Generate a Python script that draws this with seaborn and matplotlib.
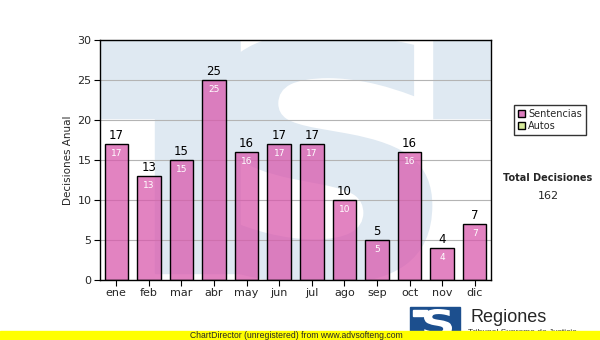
import matplotlib
matplotlib.use("Agg")
import matplotlib.pyplot as plt
import matplotlib.patches as mpatches
from matplotlib.textpath import TextPath
from matplotlib.font_manager import FontProperties
from matplotlib.transforms import Affine2D
import seaborn as sns
import pandas as pd

# data
meses = ["ene", "feb", "mar", "abr", "may", "jun", "jul", "ago", "sep", "oct", "nov", "dic"]
sentencias = [17, 13, 15, 25, 16, 17, 17, 10, 5, 16, 4, 7]
total = 162

df = pd.DataFrame({"mes": meses, "valor": sentencias})

sns.set_style("white")
plt.rcParams["font.family"] = ["DejaVu Sans"]

WM = "#dfe9f2"


def glyph_patch(ch, x0, y0, x1, y1, color, transform, zorder, family="DejaVu Sans"):
    # letter path stretched into a box
    tp = TextPath((0, 0), ch, size=100, prop=FontProperties(family=family, weight="bold"))
    ext = tp.get_extents()
    tr = Affine2D().translate(-ext.x0, -ext.y0).scale((x1 - x0) / ext.width, (y1 - y0) / ext.height).translate(x0, y0)
    return mpatches.PathPatch(tr.transform_path(tp), facecolor=color, edgecolor="none",
                              transform=transform, zorder=zorder)


fig = plt.figure(figsize=(6, 3.4), dpi=100)
ax = fig.add_axes([100 / 600, 1 - 280 / 340, 391 / 600, 240 / 340])

# "TS" watermark behind the bars
ax.set_facecolor("white")
ax.add_patch(mpatches.Rectangle((0, 0.675), 1, 0.325, transform=ax.transAxes, color=WM, zorder=0))
ax.add_patch(mpatches.Rectangle((0.14, 0.03), 0.22, 0.7, transform=ax.transAxes, color=WM, zorder=0))
ax.add_patch(mpatches.Rectangle((0.36, 0.0), 0.49, 1.0, transform=ax.transAxes, color="white", zorder=0.1))
ax.add_patch(glyph_patch("S", 0.29, -0.02, 0.85, 1.03, WM, ax.transAxes, 0.2))

sns.barplot(data=df, x="mes", y="valor", color="#d85aae", saturation=1,
            width=0.72, edgecolor="black", linewidth=1, ax=ax, zorder=3)
for p in ax.patches:
    if p.get_zorder() == 3:
        p.set_alpha(None)
        p.set_facecolor((0.85, 0.35, 0.68, 0.75))
        p.set_edgecolor((0, 0, 0, 1))

for i, v in enumerate(sentencias):
    ax.text(i, v + 0.2, str(v), ha="center", va="bottom", fontsize=8.5, color="black", zorder=4)
    ax.text(i, v - 0.6, str(v), ha="center", va="top", fontsize=6.5, color="white", zorder=4)

ax.set_ylim(0, 30)
ax.set_xlim(-0.5, 11.5)
ax.set_yticks(range(0, 31, 5))
ax.yaxis.grid(True, color="#b4b4b4", linewidth=0.8, zorder=1)
ax.set_axisbelow(True)
ax.tick_params(axis="both", labelsize=8, length=4, color="black", direction="out",
               left=True, bottom=True, pad=2)
ax.set_xlabel("")
ax.set_ylabel("Decisiones Anual", fontsize=7.5, labelpad=3)
for s in ["left", "bottom", "right", "top"]:
    ax.spines[s].set_color("black")
    ax.spines[s].set_linewidth(1)
    ax.spines[s].set_zorder(5)

# legend
handles = [mpatches.Patch(facecolor="#dc7dbe", edgecolor="black", label="Sentencias"),
           mpatches.Patch(facecolor="#d8ec9c", edgecolor="black", label="Autos")]
fig.legend(handles=handles, loc="upper left", bbox_to_anchor=(509 / 600, 1 - 100 / 340),
           fontsize=7, frameon=True, fancybox=False, edgecolor="black",
           handlelength=0.7, handleheight=0.7, handletextpad=0.3, borderpad=0.45,
           labelspacing=0.15)

fig.text(548 / 600, 1 - 178 / 340, "Total Decisiones", ha="center", va="center",
         fontsize=7, fontweight="bold")
fig.text(548 / 600, 1 - 196 / 340, str(total), ha="center", va="center", fontsize=8)

# footer: logo and yellow band
fig.patches.append(mpatches.Rectangle((410 / 600, 0), 50 / 600, 33 / 340,
                                      transform=fig.transFigure, color="#1c4f8e", zorder=2))
fig.patches.append(glyph_patch("S", 424 / 600, 3 / 340, 452 / 600, 31 / 340, "white",
                               fig.transFigure, 3))
fig.patches.append(mpatches.Rectangle((413 / 600, 24 / 340), 14 / 600, 6 / 340,
                                      transform=fig.transFigure, color="white", zorder=3))
fig.text(470 / 600, 23 / 340, "Regiones", ha="left", va="center", fontsize=13,
         family="Liberation Sans", zorder=3)
fig.text(468 / 600, 11 / 340, "Tribunal Supremo de Justicia", ha="left", va="top",
         fontsize=6, family="Liberation Sans", zorder=2)
fig.patches.append(mpatches.Rectangle((0, 0), 1, 9 / 340, transform=fig.transFigure,
                                      color="#ffff00", zorder=4))
fig.text(190 / 600, 4.5 / 340, "ChartDirector (unregistered) from www.advsofteng.com",
         ha="left", va="center", fontsize=6.2, family="Liberation Sans", zorder=5)

fig.savefig("out.png", dpi=100)
